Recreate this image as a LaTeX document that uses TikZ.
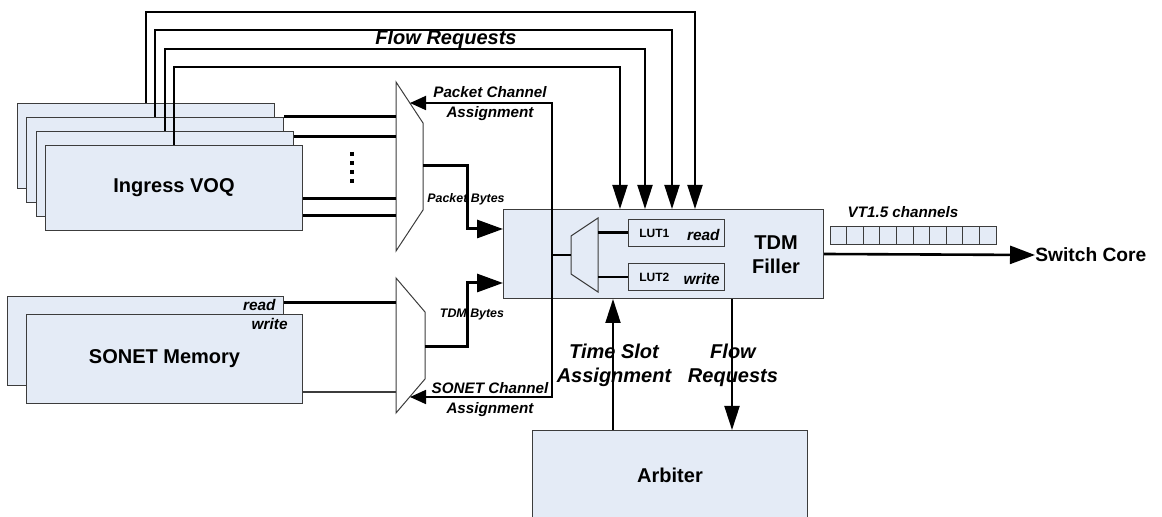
\documentclass[tikz,border=0pt]{standalone}
\usepackage{fontspec}
\setmainfont{Liberation Sans}
\usetikzlibrary{arrows.meta,positioning,calc}

\definecolor{boxfill}{RGB}{228,235,246}
\definecolor{edge}{RGB}{60,60,60}

\begin{document}
\begin{tikzpicture}[
x=0.5pt, y=-0.5pt,
blk/.style={draw=edge, fill=boxfill, line width=0.5pt, inner sep=0pt, anchor=north west, font=\bfseries\fontsize{10}{12}\selectfont},
voq/.style={blk, minimum width=128.5pt, minimum height=42.5pt},
mem/.style={blk, minimum width=138pt, minimum height=44.5pt},
lut/.style={blk, minimum width=48pt, minimum height=13.5pt},
vtcell/.style={draw=edge, fill=boxfill, line width=0.5pt, minimum width=8.3pt, minimum height=9pt, inner sep=0pt},
flowlbl/.style={font=\bfseries\itshape\fontsize{10}{12}\selectfont, align=center, inner sep=0pt},
chanlbl/.style={font=\bfseries\itshape\fontsize{7.6}{10}\selectfont, align=center, inner sep=0pt},
bytelbl/.style={font=\bfseries\itshape\fontsize{6.2}{7}\selectfont, inner sep=0pt},
rwlbl/.style={font=\bfseries\itshape\fontsize{7.7}{9}\selectfont, inner sep=0pt},
lutlbl/.style={font=\bfseries\fontsize{6}{7}\selectfont, inner sep=0pt},
mux/.style={draw=edge, line width=0.5pt},
busline/.style={line width=1.5pt},
reqline/.style={line width=1pt, -{Triangle[length=12pt,width=7.5pt]}},
selline/.style={line width=0.9pt, {Triangle[length=8pt,width=7pt]}-{Triangle[length=8pt,width=7pt]}}
]
\useasboundingbox (0,0) rectangle (1162,517);
\clip (0,0) rectangle (1162,517);

% blocks
\node[voq] (voq1) at (17,103) {};
\node[voq] (voq2) at (26,117) {};
\node[voq] (voq3) at (36,131) {};
\node[voq] (voq4) at (45,145) {Ingress VOQ};
\node[mem] (mem1) at (7,296) {};
\node[mem] (mem2) at (26,314) {SONET Memory};
\node[blk, minimum width=160pt, minimum height=44.5pt] (tdm) at (503,209) {};
\node[lut] (lut1) at (628,219) {};
\node[lut] (lut2) at (628,263) {};
\node[blk, minimum width=137.5pt, minimum height=44.5pt] (arb) at (532,430) {Arbiter};
\foreach \i in {0,...,9}
  \node[vtcell] (vt\i) at (838.3+16.6*\i,236) {};

% muxes
\coordinate (m1a) at (396,82);  \coordinate (m1b) at (423,123);
\coordinate (m1c) at (423,210); \coordinate (m1d) at (396,251);
\coordinate (m2a) at (396,278); \coordinate (m2b) at (425,312);
\coordinate (m2c) at (425,379); \coordinate (m2d) at (396,413);
\coordinate (m3a) at (571,236); \coordinate (m3b) at (598,218);
\coordinate (m3c) at (598,292); \coordinate (m3d) at (571,274);
\draw[mux] (m1a) -- (m1b) -- (m1c) -- (m1d) -- cycle;
\draw[mux] (m2a) -- (m2b) -- (m2c) -- (m2d) -- cycle;
\draw[mux] (m3a) -- (m3b) -- (m3c) -- (m3d) -- cycle;

% mux ports
\coordinate (m1in1) at (396,117); \coordinate (m1in2) at (396,137);
\coordinate (m1in3) at (396,199); \coordinate (m1in4) at (396,216);
\coordinate (m1out) at (423,166); \coordinate (m1sel) at (410,103);
\coordinate (m2in1) at (396,303); \coordinate (m2in2) at (396,392);
\coordinate (m2out) at (425,347); \coordinate (m2sel) at (410,397);
\coordinate (m3in) at (571,255);
\coordinate (m3o1) at (598,233); \coordinate (m3o2) at (598,277);
\coordinate (selx) at (552,255);

% flow requests from the queues
\draw[reqline] (voq1.north) |- (695,12) -- (tdm.north -| 695,0);
\draw[reqline] (voq2.north) |- (672,30) -- (tdm.north -| 672,0);
\draw[reqline] (voq3.north) |- (645,49) -- (tdm.north -| 645,0);
\draw[reqline] (voq4.north) |- (620,67) -- (tdm.north -| 620,0);

% data paths
\draw[busline] (voq2.east |- m1in1) -- (m1in1);
\draw[busline] (voq3.east |- m1in2) -- (m1in2);
\draw[busline] (voq4.east |- m1in3) -- (m1in3);
\draw[busline] (voq4.east |- m1in4) -- (m1in4);
\draw[line width=1.7pt, dash pattern=on 1.8pt off 2.7pt] (352,152) -- (352,183);
\draw[busline] (mem1.east |- m2in1) -- (m2in1);
\draw[line width=0.6pt, draw=edge] (mem2.east |- m2in2) -- (m2in2);
\draw[busline, -{Triangle[length=13pt,width=9pt]}] (m1out) -- ++(44,0) |- (tdm.west |- 0,229);
\draw[busline, -{Triangle[length=13pt,width=9pt]}] (m2out) -- ++(42,0) |- (tdm.west |- 0,283);

% channel assignment
\draw[selline] (m1sel) -| (selx) |- (m2sel);
\draw[line width=0.9pt] (selx) -- (m3in);
\draw[busline] (m3o1) -- (lut1.west |- m3o1);
\draw[line width=1pt] (m3o2) -- (lut2.west |- m3o2);

% arbiter and output
\draw[reqline] (arb.north -| 613,0) -- (tdm.south -| 613,0);
\draw[reqline] (tdm.south -| 732,0) -- (arb.north -| 732,0);
\node[font=\bfseries\fontsize{9.6}{11}\selectfont, inner sep=0pt, anchor=west] (core) at (1035,255) {Switch Core};
\draw[line width=1.3pt, -{Triangle[length=12.5pt,width=9pt]}] (tdm.east) -- (core.west);

% labels
\node[flowlbl, anchor=base] (frlbl) at (446,45) {Flow Requests};
\node[chanlbl] (pcalbl) at (490,104) {Packet Channel\\Assignment};
\node[chanlbl] (scalbl) at (490,400) {SONET Channel\\Assignment};
\node[bytelbl] (pblbl) at (466,199) {Packet Bytes};
\node[bytelbl] (tblbl) at (472,315) {TDM Bytes};
\node[flowlbl] (tslbl) at (614,365) {Time Slot\\Assignment};
\node[flowlbl] (arlbl) at (733,365) {Flow\\Requests};
\node[flowlbl, font=\bfseries\fontsize{10}{12}\selectfont] (tdmlbl) at (776,255) {TDM\\Filler};
\node[chanlbl] (vtlbl) at (903,212) {VT1.5 channels};
\node[rwlbl, anchor=north east] (mrdlbl) at ([xshift=-4pt,yshift=-1.5pt]mem1.north east) {read};
\node[rwlbl, anchor=north east] (mwrlbl) at ([xshift=-7.5pt,yshift=-2pt]mem2.north east) {write};
\node[lutlbl, anchor=west] (l1name) at ([xshift=5.5pt]lut1.west) {LUT1};
\node[rwlbl, anchor=east] (l1rw) at ([xshift=-2.5pt,yshift=-1pt]lut1.east) {read};
\node[lutlbl, anchor=west] (l2name) at ([xshift=5.5pt]lut2.west) {LUT2};
\node[rwlbl, anchor=east] (l2rw) at ([xshift=-2.5pt,yshift=-1pt]lut2.east) {write};
\end{tikzpicture}
\end{document}
